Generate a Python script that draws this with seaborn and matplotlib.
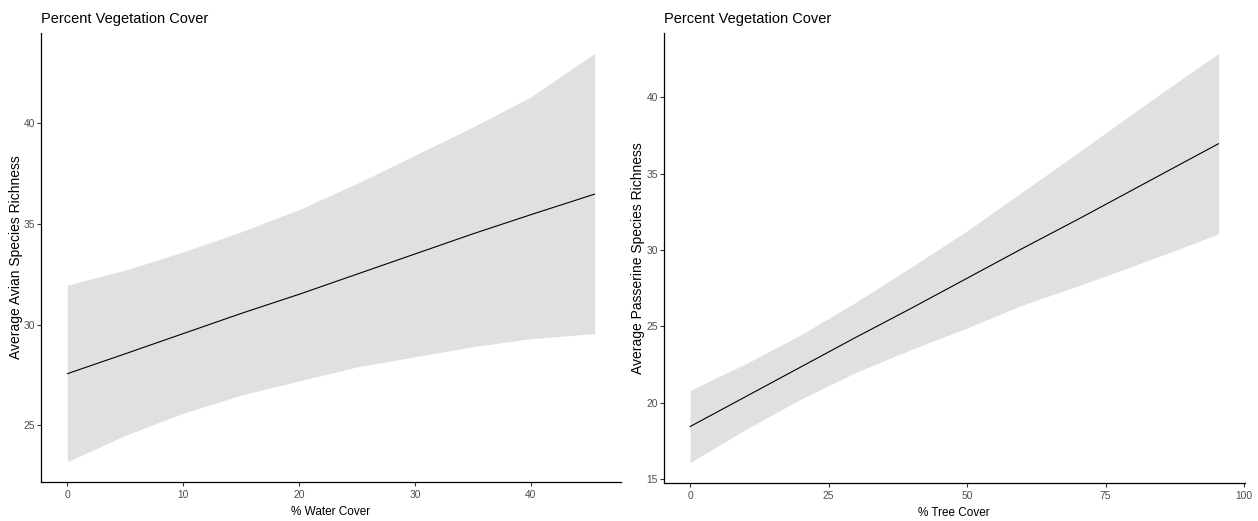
import matplotlib
matplotlib.use("Agg")
import matplotlib.pyplot as plt
import seaborn as sns
import pandas as pd

# Fitted richness vs. water cover (left panel)
water_cover = [0, 5, 10, 15, 20, 25, 30, 35, 40, 45.5]
avian_fit = [27.56, 28.55, 29.55, 30.55, 31.5, 32.5, 33.5, 34.5, 35.45, 36.47]
avian_lower = [23.2, 24.5, 25.6, 26.5, 27.2, 27.9, 28.4, 28.9, 29.3, 29.55]
avian_upper = [31.95, 32.7, 33.6, 34.6, 35.7, 37.0, 38.4, 39.8, 41.3, 43.45]

# Fitted richness vs. tree cover (right panel)
tree_cover = [0, 10, 20, 30, 40, 50, 60, 70, 80, 90, 95.4]
passerine_fit = [18.45, 20.4, 22.35, 24.3, 26.2, 28.15, 30.1, 32.0, 33.95, 35.9, 36.95]
passerine_lower = [16.1, 18.25, 20.25, 22.0, 23.5, 24.9, 26.4, 27.65, 28.95, 30.3, 31.05]
passerine_upper = [20.82, 22.55, 24.45, 26.6, 28.9, 31.25, 33.8, 36.35, 38.95, 41.5, 42.85]

panel_title = "Percent Vegetation Cover"
water_ticks = [0, 10, 20, 30, 40]
avian_ticks = [25, 30, 35, 40]
tree_ticks = [0, 25, 50, 75, 100]
passerine_ticks = [15, 20, 25, 30, 35, 40]

sns.set_theme(style="white")
plt.rcParams["font.family"] = ["Liberation Sans", "DejaVu Sans"]

W, H = 1258, 521
fig = plt.figure(figsize=(W / 100, H / 100), dpi=100)
ax1 = fig.add_axes([41 / W, 1 - 482 / H, 580 / W, 449 / H])
ax2 = fig.add_axes([663.6 / W, 1 - 483 / H, 581.4 / W, 450 / H])


def expand(lo, hi, frac=0.05):
    pad = (hi - lo) * frac
    return lo - pad, hi + pad


def draw_panel(ax, x, fit, lower, upper, xticks, yticks, xlabel, ylabel, ylab_px):
    ax.fill_between(x, lower, upper, color="#E0E0E0", lw=0, zorder=1)
    df = pd.DataFrame({"x": x, "y": fit})
    sns.lineplot(data=df, x="x", y="y", ax=ax, color="black", lw=0.8, zorder=2)
    ax.set_xlim(*expand(min(x), max(x)))
    ax.set_ylim(*expand(min(lower), max(upper)))
    ax.set_xticks(xticks)
    ax.set_yticks(yticks)
    ax.set_xlabel(xlabel, fontsize=8.5, color="black", labelpad=4.5)
    ax.set_ylabel(ylabel, fontsize=10, color="black")
    # place the y title a fixed number of pixels left of the axis line
    axw = ax.get_position().width * W
    ax.yaxis.set_label_coords(ylab_px / axw, 0.5)
    ax.set_title(panel_title, loc="left", fontsize=10.5, color="black", pad=7)
    ax.tick_params(axis="both", which="major", length=3, width=0.8,
                   color="#333333", labelcolor="#4D4D4D", labelsize=7.4,
                   bottom=True, left=True)
    ax.tick_params(axis="y", pad=1.2)
    ax.tick_params(axis="x", pad=2.8)
    for side in ("top", "right"):
        ax.spines[side].set_visible(False)
    for side in ("left", "bottom"):
        ax.spines[side].set_color("black")
        ax.spines[side].set_linewidth(0.9)
    ax.set_facecolor("white")


draw_panel(ax1, water_cover, avian_fit, avian_lower, avian_upper,
           water_ticks, avian_ticks, "% Water Cover", "Average Avian Species Richness",
           -17.5)
draw_panel(ax2, tree_cover, passerine_fit, passerine_lower, passerine_upper,
           tree_ticks, passerine_ticks, "% Tree Cover", "Average Passerine Species Richness",
           -18.5)

fig.savefig("out.png", dpi=100, facecolor="white")
